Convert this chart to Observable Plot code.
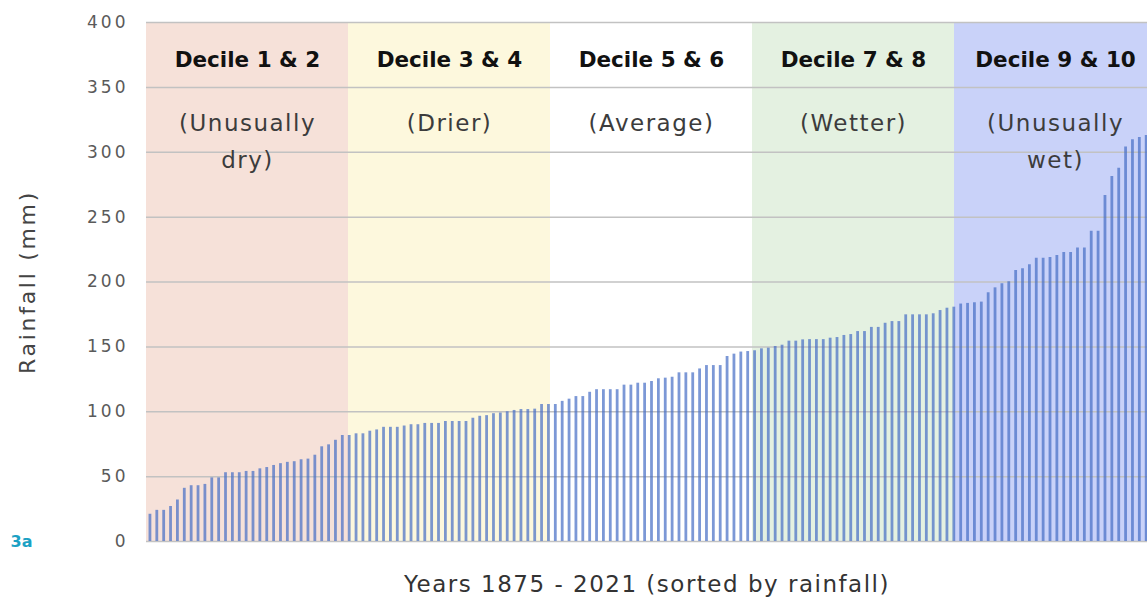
<!DOCTYPE html>
<html><head><meta charset="utf-8">
<script src="https://cdn.jsdelivr.net/npm/d3@7"></script>
<script src="https://cdn.jsdelivr.net/npm/@observablehq/plot@0.6"></script>
<style>
body{margin:0;background:#fff;overflow:hidden;}
#chart svg{display:block;}
</style></head><body><div id="chart"></div>
<script>
// Annual rainfall (mm), 1875–2021, sorted ascending
const rainfall = [
  21,24,24,27,32,41,43,43,44,49,49,53,53,53,54,54,56,57,58.6,60,61,61.5,63,63.5,66.5,73,74.5,78,81.7,81.7,83,
  83,85,86,88,88,88,89,90,90,91,91,91,92.5,92.5,92.5,92.5,95,96.5,97,98.5,99,100,101,101.7,101.7,102,
  105.6,105.6,105.6,108,109.7,111.7,111.7,115,117,117,117,117,120.5,120.5,122,122,123.3,125.4,125.9,126.6,130,130,130,133,135.6,135.6,135.6,142.6,144.4,
  146,146.4,147,148.5,149,150.3,151.3,154.4,154.4,155.4,155.6,155.6,155.6,156.7,157.2,158.8,159.5,161.8,161.8,165,165,168.2,169.5,169.5,174.7,174.7,174.7,174.7,175.5,
  178,179.8,180.6,183,183.5,184,184.5,191.7,195.5,198.6,200.1,208.9,210.2,213.2,218.4,218.4,218.9,220.4,222.7,222.7,226.3,226.3,239.2,239.2,266.7,281.3,287.7,304,309.7,311.3,
  313,316
];
const yTicks = [0,50,100,150,200,250,300,350,400];
const bandLabels = ["Decile 1 & 2","Decile 3 & 4","Decile 5 & 6","Decile 7 & 8","Decile 9 & 10"];
const bandLine1 = ["(Unusually","(Drier)","(Average)","(Wetter)","(Unusually"];
const bandLine2 = ["dry)","","","","wet)"];
const bandColors = ["#f6e1d9","#fdf8dd","#ffffff","#e4f1e1","#c9d2f9"];
const yLabel = "Rainfall (mm)";
const xLabel = "Years 1875 - 2021 (sorted by rainfall)";
const panelTag = "3a";

const n = rainfall.length;
const bw = n / bandLabels.length;
const bands = bandLabels.map((label, k) => ({
  label, line1: bandLine1[k], line2: bandLine2[k], color: bandColors[k],
  x1: -0.5 + k * bw, x2: -0.5 + (k + 1) * bw, xc: -0.5 + (k + 0.5) * bw
}));
const bars = rainfall.map((v, i) => ({i, v}));
const font = "'DejaVu Sans', sans-serif";

const chart = Plot.plot({
  width: 1147, height: 603,
  marginTop: 22, marginBottom: 62, marginLeft: 146, marginRight: 0,
  x: {domain: [-0.5, n - 0.5], range: [146, 1156], axis: null},
  y: {domain: [yTicks[0], yTicks[yTicks.length - 1]], axis: null},
  color: {type: "identity"},
  style: {fontFamily: font, background: "#fff", overflow: "hidden"},
  marks: [
    Plot.rect(bands, {x1: "x1", x2: "x2", y1: yTicks[0], y2: yTicks[yTicks.length - 1], fill: "color"}),
    Plot.gridY(yTicks, {stroke: "#c2c2c2", strokeOpacity: 1, strokeWidth: 1.5}),
    Plot.ruleX(bars, {x: "i", y: "v", stroke: "#446cc4", strokeOpacity: 0.7, strokeWidth: 2.8}),
    Plot.axisY({ticks: yTicks, label: null, tickSize: 0, tickPadding: 18, fontSize: 17, fill: "#5a5a5a", fontFamily: font}),
    Plot.text(bands, {x: "xc", text: "label", frameAnchor: "top", lineAnchor: "middle", dy: 38, fontSize: 21.5, fontWeight: "bold", fill: "#111"}),
    Plot.text(bands, {x: "xc", text: "line1", frameAnchor: "top", lineAnchor: "middle", dy: 101, fontSize: 23, fill: "#3c3c3c"}),
    Plot.text(bands, {x: "xc", text: "line2", frameAnchor: "top", lineAnchor: "middle", dy: 138, fontSize: 23, fill: "#3c3c3c"}),
    Plot.text([yLabel], {frameAnchor: "left", textAnchor: "middle", lineAnchor: "middle", dx: -119, rotate: -90, fontSize: 22, fill: "#444"}),
    Plot.text([xLabel], {frameAnchor: "bottom", lineAnchor: "middle", dy: 43, fontSize: 23, fill: "#333"}),
    Plot.text([panelTag], {frameAnchor: "bottom-left", lineAnchor: "middle", dx: -136, dy: 0, textAnchor: "start", fontSize: 16, fontWeight: "bold", fill: "#1ba1c4"})
  ]
});
document.getElementById("chart").appendChild(chart);

// letter spacing to mimic the wide geometric typeface
const spacing = [null, 1.5, 1.5, 2.7, 1.5, 0];
const textGroups = chart.querySelectorAll('g[aria-label="text"]');
textGroups.forEach((g, k) => { if (spacing[k]) g.style.letterSpacing = spacing[k] + "px"; });
const tickGroup = chart.querySelector('g[aria-label="y-axis tick label"]');
if (tickGroup) tickGroup.style.letterSpacing = "3px";
</script></body></html>
